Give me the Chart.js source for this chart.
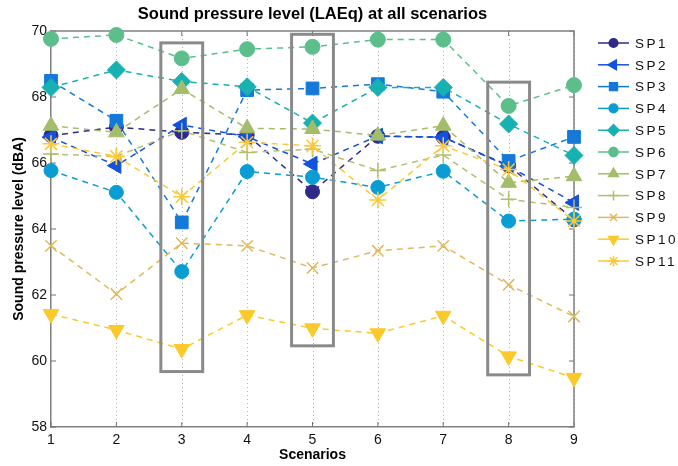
<!DOCTYPE html>
<html>
<head>
<meta charset="utf-8">
<script src="https://cdn.jsdelivr.net/npm/chart.js@4.4.1/dist/chart.umd.min.js"></script>
<style>
  html, body { margin: 0; padding: 0; background: #fff; }
  #wrap { width: 678px; height: 466px; }
</style>
</head>
<body>
<div id="wrap"><canvas id="spl-chart" width="678" height="466"></canvas></div>
<script>
// scenarios on the x axis, y ticks in dBA
const scenarios = [1, 2, 3, 4, 5, 6, 7, 8, 9];
const yTicks = [58, 60, 62, 64, 66, 68, 70];

// LAEq per sound point, one value per scenario
const sp1  = [66.83, 67.09, 66.93, 66.85, 65.13, 66.81, 66.78, 65.92, 64.28];
const sp2  = [66.78, 65.92, 67.15, 66.80, 65.97, 66.82, 66.78, 65.90, 64.80];
const sp3  = [68.49, 67.28, 64.20, 68.21, 68.26, 68.39, 68.16, 66.06, 66.79];
const sp4  = [65.77, 65.11, 62.71, 65.74, 65.57, 65.26, 65.75, 64.24, 64.30];
const sp5  = [68.29, 68.82, 68.47, 68.31, 67.21, 68.29, 68.29, 67.18, 66.23];
const sp6  = [69.76, 69.88, 69.17, 69.45, 69.52, 69.74, 69.74, 67.73, 68.36];
const sp7  = [67.13, 66.93, 68.24, 67.05, 67.03, 66.83, 67.13, 65.40, 65.60];
const sp8  = [66.27, 66.20, 66.98, 66.32, 66.42, 65.77, 66.24, 64.90, 64.65];
const sp9  = [63.49, 62.03, 63.57, 63.49, 62.82, 63.34, 63.49, 62.31, 61.35];
const sp10 = [61.42, 60.94, 60.36, 61.39, 60.99, 60.84, 61.37, 60.14, 59.49];
const sp11 = [66.58, 66.20, 64.98, 66.63, 66.52, 64.88, 66.52, 65.80, 64.24];

const seriesNames  = ["SP1", "SP2", "SP3", "SP4", "SP5", "SP6", "SP7", "SP8", "SP9", "SP10", "SP11"];
const seriesValues = [sp1, sp2, sp3, sp4, sp5, sp6, sp7, sp8, sp9, sp10, sp11];

// highlighted scenarios (grey boxes), extents in data units
const boxScenarios = [3, 5, 8];
const boxLow  = [59.68, 60.46, 59.58];
const boxHigh = [69.64, 69.90, 68.45];
const boxHalfWidth = 0.32;

// styles
const colors = ["#2f2a87", "#1352dc", "#1479d8", "#0a9dd3", "#17b1b2", "#5cbf8b",
                "#a4bd6b", "#b3bf6f", "#e0b95c", "#fcc92b", "#fbc83a"];
const markers = ["circle", "triangle", "rect", "circle", "rectRot", "circle",
                 "triangle", "cross", "crossRot", "triangle", "star"];
const rotations = [0, -90, 0, 0, 0, 0, 0, 0, 0, 180, 0];
const radii = [7, 9, 9, 7, 9, 7.5, 9, 8, 8, 9, 8.5];

const tickFont = "'Liberation Sans Narrow', 'Liberation Sans', Arial, sans-serif";
const boldFont = "'Liberation Sans', Arial, sans-serif";

const datasets = seriesNames.map((name, i) => ({
  label: name,
  data: scenarios.map((s, j) => ({ x: s, y: seriesValues[i][j] })),
  borderColor: colors[i],
  backgroundColor: colors[i],
  borderWidth: 1.5,
  borderDash: [6, 5],
  pointStyle: markers[i],
  pointRotation: rotations[i],
  pointRadius: radii[i],
  pointBorderWidth: (markers[i] === "cross" || markers[i] === "crossRot" || markers[i] === "star") ? 1.5 : 1,
  pointBackgroundColor: colors[i],
  pointBorderColor: colors[i],
  tension: 0,
  clip: false,
  order: seriesNames.length - i
}));

// dotted grid, axis box, inward ticks and grey highlight boxes
const framePlugin = {
  id: "frame",
  beforeDatasetsDraw(chart) {
    const { ctx, chartArea: a, scales: { x, y } } = chart;
    ctx.save();
    // dotted vertical grid
    ctx.strokeStyle = "#b4b4b4";
    ctx.lineWidth = 1;
    ctx.setLineDash([1, 3]);
    ctx.beginPath();
    scenarios.forEach(s => {
      const px = Math.round(x.getPixelForValue(s)) + 0.5;
      ctx.moveTo(px, a.top); ctx.lineTo(px, a.bottom);
    });
    ctx.stroke();
    ctx.setLineDash([]);
    // inward ticks
    ctx.strokeStyle = "#707070";
    ctx.beginPath();
    scenarios.forEach(s => {
      const px = x.getPixelForValue(s);
      ctx.moveTo(px, a.bottom); ctx.lineTo(px, a.bottom - 5);
      ctx.moveTo(px, a.top); ctx.lineTo(px, a.top + 5);
    });
    yTicks.forEach(t => {
      const py = y.getPixelForValue(t);
      ctx.moveTo(a.left, py); ctx.lineTo(a.left + 5, py);
      ctx.moveTo(a.right, py); ctx.lineTo(a.right - 5, py);
    });
    ctx.stroke();
    // top and right of the axis box
    ctx.strokeStyle = "#808080";
    ctx.lineWidth = 1.5;
    ctx.beginPath();
    ctx.moveTo(a.left, a.top); ctx.lineTo(a.right, a.top); ctx.lineTo(a.right, a.bottom);
    ctx.stroke();
    ctx.restore();
  },
  afterDatasetsDraw(chart) {
    const { ctx, scales: { x, y } } = chart;
    ctx.save();
    ctx.strokeStyle = "#8a8a8a";
    ctx.lineWidth = 3;
    boxScenarios.forEach((s, i) => {
      const l = x.getPixelForValue(s - boxHalfWidth);
      const r = x.getPixelForValue(s + boxHalfWidth);
      const t = y.getPixelForValue(boxHigh[i]);
      const b = y.getPixelForValue(boxLow[i]);
      ctx.strokeRect(l, t, r - l, b - t);
    });
    ctx.restore();
  },
  afterDraw(chart) {
    const { ctx, chartArea: a } = chart;
    ctx.save();
    // title centred over the plot area
    ctx.fillStyle = "#000";
    ctx.font = "bold 16.5px " + boldFont;
    ctx.textAlign = "center";
    ctx.textBaseline = "middle";
    ctx.fillText("Sound pressure level (LAEq) at all scenarios", (a.left + a.right) / 2, 14);

    // legend on the right
    ctx.textAlign = "left";
    ctx.font = "13.5px " + boldFont;
    ctx.letterSpacing = "2.5px";
    chart.data.datasets.forEach((ds, i) => {
      const ly = 43 + i * 21.8;
      ctx.strokeStyle = ds.borderColor;
      ctx.fillStyle = ds.backgroundColor;
      ctx.lineWidth = 1.5;
      ctx.setLineDash([]);
      ctx.beginPath();
      ctx.moveTo(598, ly); ctx.lineTo(629, ly);
      ctx.stroke();
      Chart.helpers.drawPoint(ctx, {
        pointStyle: ds.pointStyle,
        rotation: ds.pointRotation,
        radius: ds.pointRadius * 0.62,
        borderWidth: 1
      }, 613.5, ly);
      ctx.fillStyle = "#111";
      ctx.fillText(ds.label, 635, ly + 1);
    });
    ctx.restore();
  }
};

new Chart(document.getElementById("spl-chart"), {
  type: "line",
  data: { datasets },
  options: {
    responsive: false,
    animation: false,
    devicePixelRatio: 1,
    layout: { padding: { top: 31, right: 104, left: 0, bottom: 0 } },
    plugins: { legend: { display: false }, tooltip: { enabled: false }, title: { display: false } },
    scales: {
      x: {
        type: "linear",
        min: 1,
        max: 9,
        afterFit: s => { s.height = 39; },
        afterBuildTicks: s => { s.ticks = scenarios.map(v => ({ value: v })); },
        ticks: { padding: 5, color: "#111", font: { family: tickFont, size: 14 } },
        grid: { display: false, drawTicks: false },
        border: { color: "#808080", width: 1.5 },
        title: { display: true, text: "Scenarios", color: "#000",
                 font: { family: "'Liberation Sans Narrow', " + boldFont, size: 14, weight: "bold" },
                 padding: { top: 0, bottom: 2 } }
      },
      y: {
        min: 58,
        max: 70,
        afterFit: s => { s.width = 51; },
        afterBuildTicks: s => { s.ticks = yTicks.map(v => ({ value: v })); },
        ticks: { padding: 4, color: "#111", font: { family: tickFont, size: 14 } },
        grid: { display: false, drawTicks: false },
        border: { color: "#808080", width: 1.5 },
        title: { display: true, text: "Sound pressure level (dBA)", color: "#000",
                 font: { family: boldFont, size: 14, weight: "bold" },
                 padding: { top: 11, bottom: 0 } }
      }
    }
  },
  plugins: [framePlugin]
});
</script>
</body>
</html>
